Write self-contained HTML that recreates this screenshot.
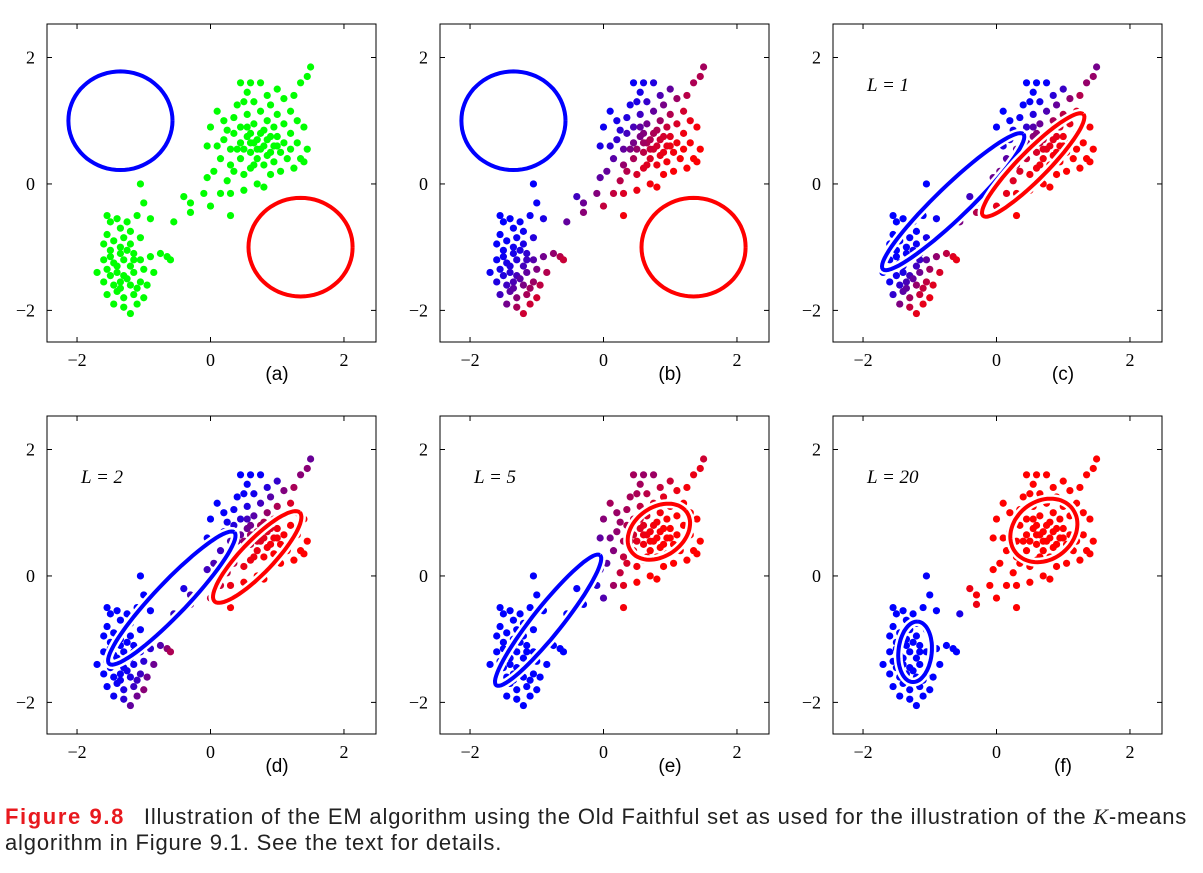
<!DOCTYPE html>
<html><head><meta charset="utf-8">
<style>
body{margin:0;background:#fff;width:1203px;height:873px;overflow:hidden;}
svg{position:absolute;left:0;top:0;}
.cap{position:absolute;left:5px;font-family:"Liberation Sans",sans-serif;font-size:22px;letter-spacing:0.82px;color:#222;white-space:nowrap;}
</style></head>
<body>
<svg id="fig" width="1203" height="873"></svg>
<div class="cap" style="top:804px"><b style="color:#e8191e;letter-spacing:1.6px">Figure 9.8</b><span style="display:inline-block;width:19px"></span>Illustration of the EM algorithm using the Old Faithful set as used for the illustration of the <i style="font-family:'Liberation Serif',serif">K</i>-means</div>
<div class="cap" style="top:830px">algorithm in Figure 9.1. See the text for details.</div>
<script>
const lowerCluster=[[-1.55,-0.5],[-1.5,-0.6],[-1.4,-0.55],[-1.35,-0.7],[-1.25,-0.6],[-1.1,-0.5],[-1.0,-0.3],[-1.3,-0.85],[-1.45,-0.9],[-1.6,-0.95],[-1.2,-0.95],[-1.05,-0.85],[-1.5,-1.05],[-1.35,-1.1],[-1.25,-1.05],[-1.15,-1.1],[-1.6,-1.2],[-1.45,-1.25],[-1.3,-1.2],[-1.2,-1.3],[-1.05,-1.2],[-0.9,-1.15],[-0.75,-1.1],[-1.7,-1.4],[-1.55,-1.35],[-1.4,-1.4],[-1.3,-1.45],[-1.15,-1.4],[-1.0,-1.35],[-0.85,-1.4],[-1.6,-1.55],[-1.45,-1.6],[-1.35,-1.55],[-1.2,-1.6],[-1.05,-1.55],[-0.95,-1.6],[-1.55,-1.75],[-1.4,-1.7],[-1.3,-1.8],[-1.15,-1.75],[-1.0,-1.8],[-1.45,-1.9],[-1.3,-1.95],[-1.2,-2.05],[-1.1,-1.9],[-0.65,-1.15],[-0.6,-1.2],[-1.5,-1.15],[-1.35,-1.0],[-1.25,-1.5],[-1.4,-1.3],[-1.15,-1.2],[-1.5,-1.45],[-1.1,-1.65],[-1.35,-1.65],[-1.55,-0.8],[-1.2,-0.75],[-0.9,-0.55],[-1.05,0.0],[-0.55,-0.6]];
const bridgePoints=[[-0.4,-0.2],[-0.3,-0.3],[-0.3,-0.45],[-0.05,0.1],[0.0,-0.35],[0.3,-0.5],[-0.1,-0.15]];
const upperCluster=[[0.0,0.9],[0.1,1.15],[0.2,0.7],[0.15,0.4],[0.05,0.2],[0.25,0.05],[0.3,0.3],[0.3,0.55],[0.35,0.8],[0.35,1.05],[0.4,1.25],[0.45,0.9],[0.45,0.65],[0.45,0.4],[0.5,0.15],[0.5,-0.1],[0.55,1.45],[0.55,1.1],[0.55,0.75],[0.6,0.5],[0.6,0.25],[0.65,1.3],[0.65,0.95],[0.65,0.65],[0.7,0.4],[0.7,0.0],[0.75,1.6],[0.75,1.15],[0.75,0.8],[0.75,0.55],[0.8,0.3],[0.8,-0.05],[0.85,1.4],[0.85,1.0],[0.85,0.7],[0.85,0.45],[0.9,0.15],[0.9,1.25],[0.95,0.9],[0.95,0.6],[0.95,0.35],[1.0,1.5],[1.0,1.1],[1.0,0.75],[1.05,0.5],[1.05,0.2],[1.1,1.35],[1.1,0.95],[1.1,0.65],[1.15,0.4],[1.2,1.15],[1.2,0.8],[1.2,0.55],[1.25,1.4],[1.25,0.25],[1.3,1.0],[1.3,0.65],[1.35,1.6],[1.35,0.4],[1.4,0.9],[1.45,1.7],[1.5,1.85],[1.45,0.55],[1.4,0.35],[0.6,0.8],[0.7,0.7],[0.8,0.6],[0.9,0.5],[0.7,0.55],[0.6,0.65],[0.5,0.55],[0.8,0.85],[0.9,0.75],[1.0,0.6],[0.65,0.3],[0.55,0.9],[0.4,0.55],[0.25,0.85],[0.2,1.0],[0.1,0.6],[0.5,1.3],[0.6,1.6],[0.45,1.6],[0.35,0.2],[-0.05,0.6],[0.15,-0.15],[0.3,-0.15]];
const points=lowerCluster.concat(bridgePoints,upperCluster);
const panelLabels=["(a)","(b)","(c)","(d)","(e)","(f)"];
const iterLabels=["","","L = 1","L = 2","L = 5","L = 20"];
// components: [cx, cy, majorSd, minorSd, angleDeg]
const blueComps=[[-1.35,1.0,0.78,0.78,0],[-1.35,1.0,0.78,0.78,0],[-0.65,-0.28,1.5,0.25,45.5],[-0.58,-0.35,1.4,0.25,48],[-0.83,-0.7,1.29,0.22,53],[-1.22,-1.2,0.48,0.25,85]];
const redComps=[[1.35,-1.0,0.78,0.78,0],[1.35,-1.0,0.78,0.78,0],[0.55,0.3,1.1,0.22,47],[0.7,0.3,0.95,0.25,48],[0.83,0.7,0.52,0.38,40],[0.71,0.72,0.55,0.45,45]];
const showEllipses=[true,true,true,true,true,true];
const xTicks=[-2,0,2], yTicks=[-2,0,2];
const tickText=v=>v<0?"\u22122":String(v);

const NS="http://www.w3.org/2000/svg";
const svg=document.getElementById('fig');
function mk(t,a,p){const e=document.createElementNS(NS,t);for(const k in a)e.setAttribute(k,a[k]);(p||svg).appendChild(e);return e;}
const W=329,H=318,colX=[47,440,833],rowY=[24,416];
function logpdf(p,c){const th=c[4]*Math.PI/180,dx=p[0]-c[0],dy=p[1]-c[1];
 const u=dx*Math.cos(th)+dy*Math.sin(th),v=-dx*Math.sin(th)+dy*Math.cos(th);
 return -0.5*(u*u/(c[2]*c[2])+v*v/(c[3]*c[3]))-Math.log(c[2]*c[3]);}
for(let i=0;i<6;i++){
 const ox=colX[i%3],oy=rowY[Math.floor(i/3)];
 const sx=v=>ox+(v+2.45)/4.93*W, sy=v=>oy+(2.53-v)/5.03*H;
 const g=mk('g',{});
 
 
 const box=mk('rect',{x:ox,y:oy,width:W,height:H,fill:'none',stroke:'#000','stroke-width':1},g);
 
 
 xTicks.forEach(t=>{const x=sx(t);mk('line',{x1:x,y1:oy+H,x2:x,y2:oy+H-5,stroke:'#000'},g);mk('line',{x1:x,y1:oy,x2:x,y2:oy+5,stroke:'#000'},g);
  const tx=mk('text',{x:x,y:oy+H+24,'text-anchor':'middle','font-family':'Liberation Serif,serif','font-size':18},g);tx.textContent=tickText(t);
  
  });
 yTicks.forEach(t=>{const y=sy(t);mk('line',{x1:ox,y1:y,x2:ox+5,y2:y,stroke:'#000'},g);mk('line',{x1:ox+W,y1:y,x2:ox+W-5,y2:y,stroke:'#000'},g);
  const tx=mk('text',{x:ox-12,y:y+6,'text-anchor':'end','font-family':'Liberation Serif,serif','font-size':18},g);tx.textContent=tickText(t);
  
  });
 const b=blueComps[i],r=redComps[i];
 points.forEach(p=>{let col;
  if(i===0)col='#00ff00';else{const lb=logpdf(p,b),lr=logpdf(p,r),m=Math.max(lb,lr);const eb=Math.exp(lb-m),er=Math.exp(lr-m);const rr=er/(eb+er);
   col='rgb('+Math.round(255*rr)+',0,'+Math.round(255*(1-rr))+')';}
  const c=mk('circle',{cx:sx(p[0]),cy:sy(p[1]),r:3.6,fill:col},g);
  
  });
 if(showEllipses[i]){[[b,'#0000ff'],[r,'#ff0000']].forEach(([c,col])=>{
  const th=c[4]*Math.PI/180;
  let d='';for(let k=0;k<=72;k++){const a=k/72*2*Math.PI;const u=c[2]*Math.cos(a),v=c[3]*Math.sin(a);
   const X=c[0]+u*Math.cos(th)-v*Math.sin(th),Y=c[1]+u*Math.sin(th)+v*Math.cos(th);d+=(k?'L':'M')+sx(X).toFixed(1)+','+sy(Y).toFixed(1);}
  mk('path',{d:d,fill:'none',stroke:'#fff','stroke-width':9},g);
  const e=mk('path',{d:d,fill:'none',stroke:col,'stroke-width':4},g);
  
  });}
 const pl=mk('text',{x:ox+230,y:oy+H+38,'text-anchor':'middle','font-family':'Liberation Sans,sans-serif','font-size':19},g);pl.textContent=panelLabels[i];
 
 
 if(iterLabels[i]){const t=mk('text',{x:ox+34,y:oy+67,'font-family':'Liberation Serif,serif','font-size':19,'font-style':'italic'},g);t.textContent=iterLabels[i];
  
  }
}
</script>
</body></html>
